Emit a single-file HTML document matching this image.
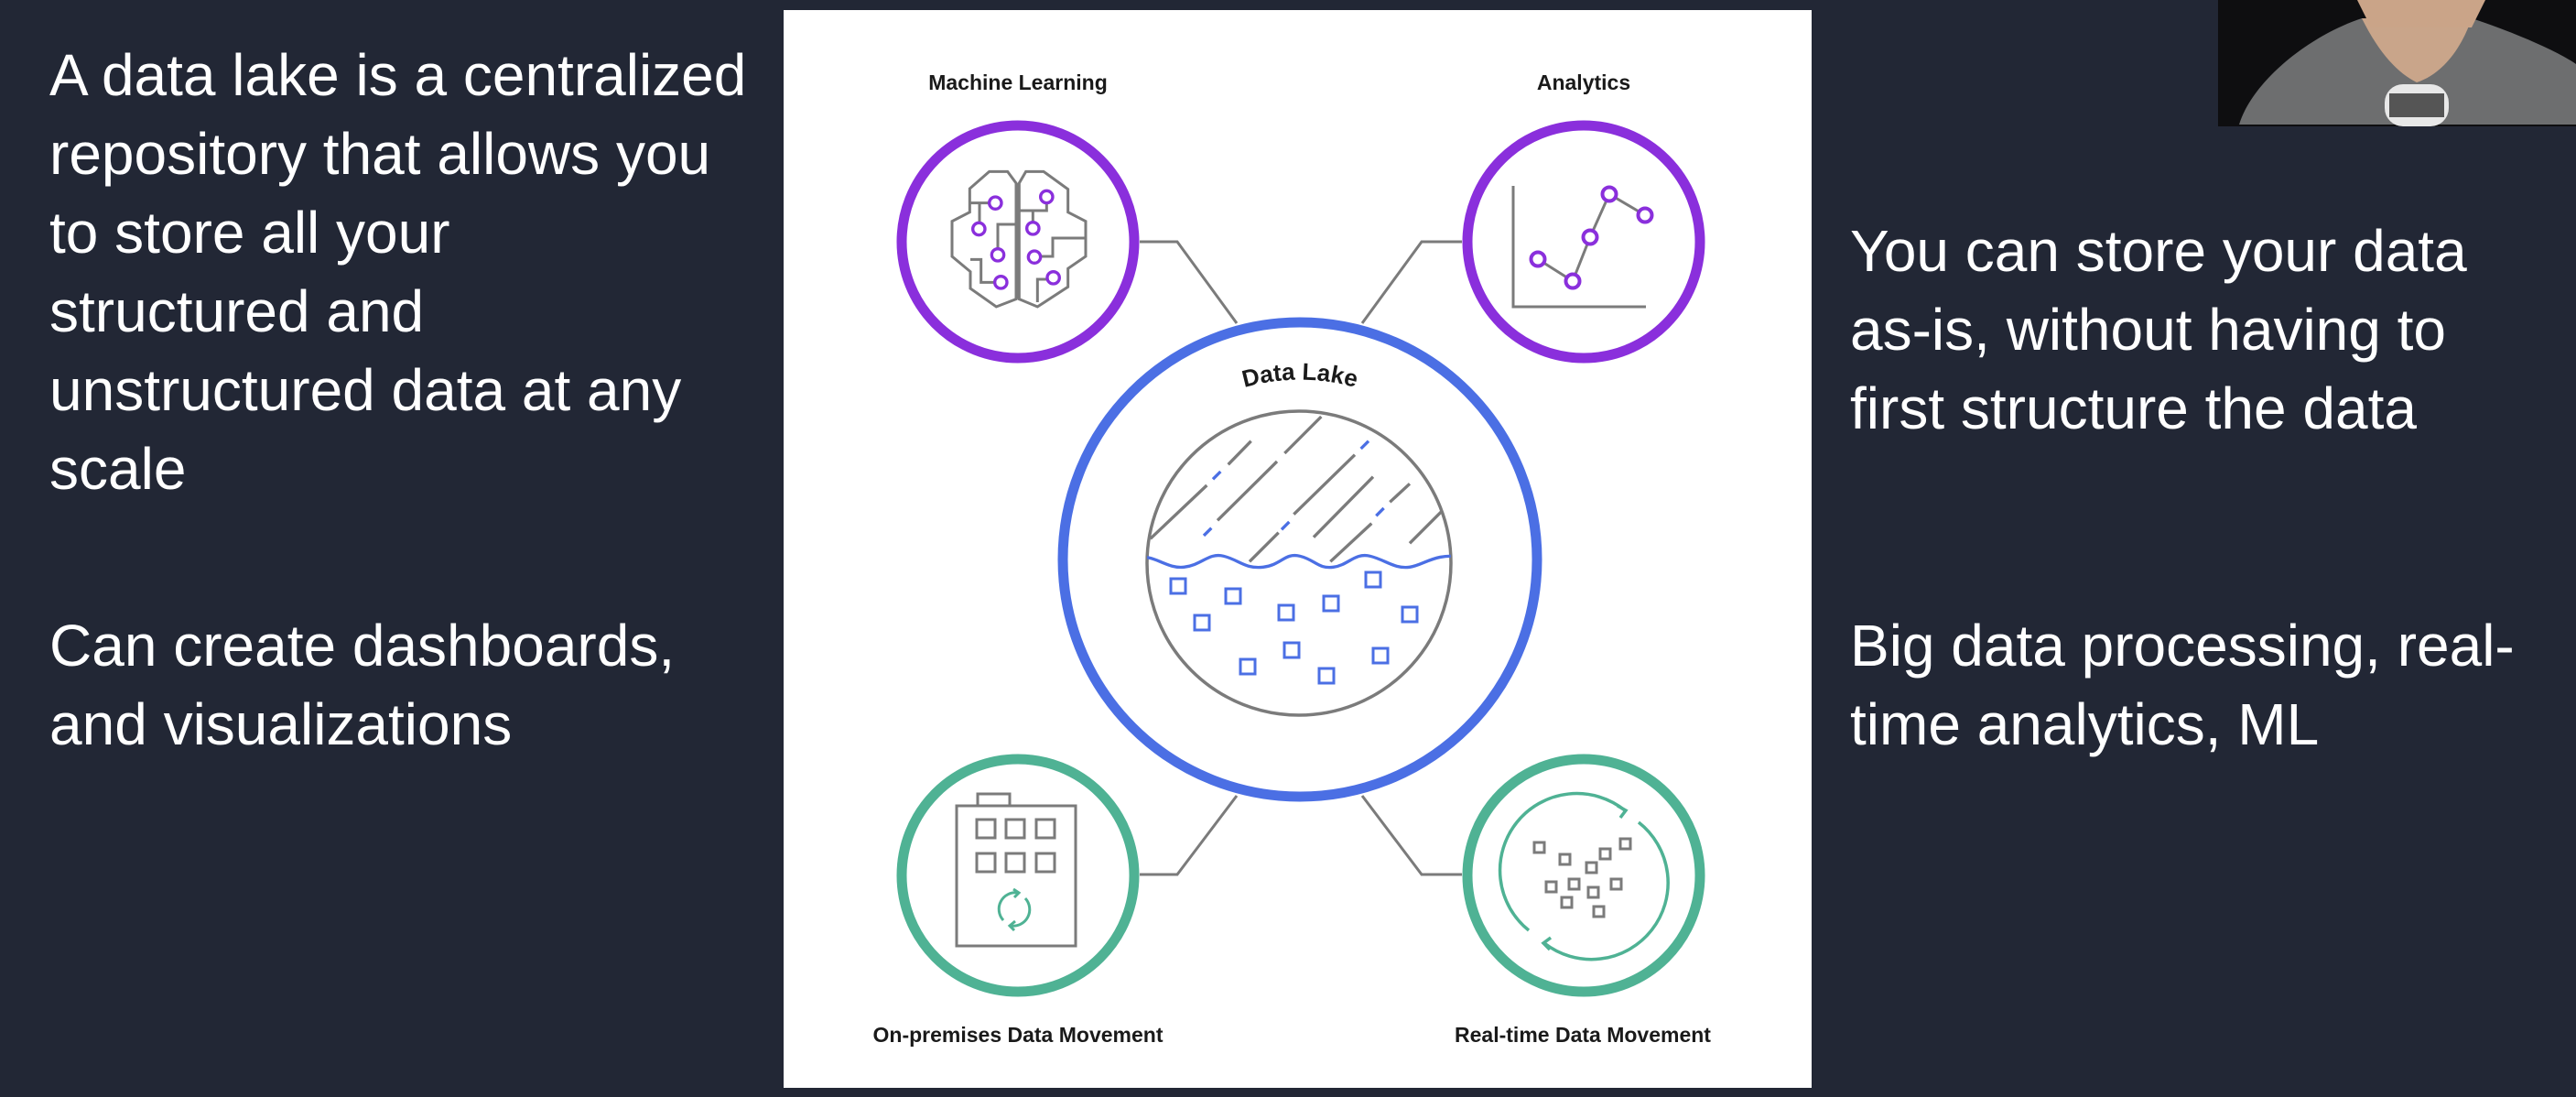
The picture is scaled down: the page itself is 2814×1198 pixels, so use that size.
<!DOCTYPE html>
<html><head><meta charset="utf-8"><style>
html,body{margin:0;padding:0}
body{width:2814px;height:1198px;background:#222735;position:relative;overflow:hidden;font-family:"Liberation Sans",sans-serif}
.t{position:absolute;color:#fff;font-size:64px;line-height:86px;white-space:nowrap}
svg{position:absolute;left:0;top:0}
</style></head><body>
<div class="t" style="left:54px;top:39px">A data lake is a centralized<br>repository that allows you<br>to store all your<br>structured and<br>unstructured data at any<br>scale</div>
<div class="t" style="left:54px;top:662px">Can create dashboards,<br>and visualizations</div>
<div class="t" style="left:2021px;top:231px">You can store your data<br>as-is, without having to<br>first structure the data</div>
<div class="t" style="left:2021px;top:662px">Big data processing, real-<br>time analytics, ML</div>

<svg width="2814" height="1198" viewBox="0 0 2814 1198">
<defs><clipPath id="ic"><circle cx="1419" cy="615" r="166"/></clipPath></defs>
<!-- webcam -->
<rect x="2423" y="0" width="391" height="138" fill="#0e0e10"/>
<path d="M2446 136 C2460 90 2520 40 2580 20 L2700 20 C2760 40 2800 60 2814 70 L2814 136 Z" fill="#6d6e6f"/>
<path d="M2580 20 C2600 60 2620 80 2640 90 C2670 80 2690 50 2700 20 Z" fill="#c9a58a"/>
<path d="M2575 0 L2715 0 L2700 30 L2590 30 Z" fill="#caa488"/>
<rect x="2605" y="92" width="70" height="46" rx="20" fill="#e8e8e8"/>
<rect x="2610" y="102" width="60" height="26" fill="#555"/>
<!-- panel -->
<rect x="856" y="11" width="1123" height="1177" fill="#fff"/>
<!-- connectors -->
<g fill="none" stroke="#7b7b7b" stroke-width="3">
<polyline points="1245,264 1286,264 1351,353"/>
<polyline points="1597,264 1553,264 1488,353"/>
<polyline points="1245,955 1286,955 1351,869"/>
<polyline points="1597,955 1553,955 1488,869"/>
</g>
<!-- circles -->
<circle cx="1112" cy="264" r="127" fill="#fff" stroke="#8a2fdc" stroke-width="11"/>
<circle cx="1730" cy="264" r="127" fill="#fff" stroke="#8a2fdc" stroke-width="11"/>
<circle cx="1112" cy="956" r="127" fill="#fff" stroke="#4fb294" stroke-width="11"/>
<circle cx="1730" cy="956" r="127" fill="#fff" stroke="#4fb294" stroke-width="11"/>
<circle cx="1420" cy="611" r="259" fill="#fff" stroke="#4b6fe4" stroke-width="11"/>
<!-- labels -->
<g font-family="Liberation Sans, sans-serif" font-weight="bold" font-size="23" fill="#1a1a1a" text-anchor="middle">
<text x="1112" y="98">Machine Learning</text>
<text x="1730" y="98">Analytics</text>
<text x="1112" y="1138">On-premises Data Movement</text>
<text x="1729" y="1138">Real-time Data Movement</text>
</g>
<path id="arc" d="M1250 495 A220 220 0 0 1 1590 495" fill="none"/>
<text font-family="Liberation Sans, sans-serif" font-weight="bold" font-size="26" fill="#1a1a1a" text-anchor="middle"><textPath href="#arc" startOffset="50%">Data Lake</textPath></text>
<!-- inner lake -->
<circle cx="1419" cy="615" r="166" fill="#fff" stroke="#7b7b7b" stroke-width="3.5"/>
<g clip-path="url(#ic)">
<g transform="translate(1240,430) scale(0.3333)" stroke-width="10" fill="none" stroke-linecap="butt">
<g stroke="#7b7b7b">
<line x1="50" y1="475" x2="235" y2="300"/><line x1="305" y1="232" x2="380" y2="155"/>
<line x1="270" y1="415" x2="465" y2="222"/><line x1="490" y1="195" x2="610" y2="75"/>
<line x1="375" y1="550" x2="470" y2="455"/><line x1="520" y1="395" x2="720" y2="200"/>
<line x1="585" y1="470" x2="780" y2="272"/><line x1="640" y1="550" x2="775" y2="425"/>
<line x1="835" y1="355" x2="900" y2="295"/><line x1="900" y1="490" x2="1005" y2="385"/>
</g>
<g stroke="#4b6fe4">
<line x1="225" y1="465" x2="250" y2="440"/><line x1="255" y1="280" x2="280" y2="255"/>
<line x1="480" y1="445" x2="505" y2="420"/><line x1="740" y1="180" x2="765" y2="155"/>
<line x1="790" y1="400" x2="815" y2="375"/>
<path d="M0 540 C60 520 100 575 160 568 S 240 520 290 532 S 360 575 420 568 S 490 520 540 532 S 600 575 650 568 S 720 520 770 532 S 850 575 900 568 S 980 520 1080 535"/>
</g>
</g>
</g>
<g fill="none" stroke="#4b6fe4" stroke-width="3">
<rect x="1279" y="632" width="16" height="16"/><rect x="1339" y="643" width="16" height="16"/>
<rect x="1305" y="672" width="16" height="16"/><rect x="1397" y="661" width="16" height="16"/>
<rect x="1446" y="651" width="16" height="16"/><rect x="1492" y="625" width="16" height="16"/>
<rect x="1532" y="663" width="16" height="16"/><rect x="1403" y="702" width="16" height="16"/>
<rect x="1355" y="720" width="16" height="16"/><rect x="1441" y="730" width="16" height="16"/>
<rect x="1500" y="708" width="16" height="16"/>
</g>
<!-- brain -->
<g transform="translate(1030,170) scale(0.3333)" fill="none">
<g stroke="#7b7b7b" stroke-width="9">
<path d="M240 90 L212 52 L152 52 L88 108 L88 185 L30 215 L30 330 L90 380 L90 435 L175 495 L240 470 Z"/>
<path d="M250 90 L272 52 L330 52 L410 110 L410 185 L468 215 L468 330 L410 370 L410 430 L310 495 L250 470 Z"/>
<line x1="245" y1="90" x2="245" y2="470"/>
<polyline points="90,155 150,155"/><polyline points="120,155 120,218"/>
<polyline points="245,225 180,225 180,305"/>
<polyline points="90,340 125,340 125,415 168,415"/>
<polyline points="340,157 340,180 250,180"/><polyline points="295,180 295,216"/>
<polyline points="468,270 360,270 360,330 322,330"/>
<polyline points="342,405 310,405 310,480"/>
</g>
<g stroke="#8a2fdc" stroke-width="10" fill="#fff">
<circle cx="172" cy="155" r="20"/><circle cx="118" cy="240" r="20"/><circle cx="180" cy="325" r="20"/>
<circle cx="190" cy="415" r="20"/><circle cx="340" cy="135" r="20"/><circle cx="295" cy="238" r="20"/>
<circle cx="300" cy="332" r="20"/><circle cx="362" cy="400" r="20"/>
</g>
</g>
<!-- analytics -->
<polyline points="1653,203 1653,335 1798,335" fill="none" stroke="#7b7b7b" stroke-width="3"/>
<polyline points="1680,283 1718,307 1737,259 1758,212 1797,235" fill="none" stroke="#7b7b7b" stroke-width="3"/>
<g stroke="#8a2fdc" stroke-width="4" fill="#fff">
<circle cx="1680" cy="283" r="7.5"/><circle cx="1718" cy="307" r="7.5"/><circle cx="1737" cy="259" r="7.5"/>
<circle cx="1758" cy="212" r="7.5"/><circle cx="1797" cy="235" r="7.5"/>
</g>
<!-- building -->
<g fill="none" stroke="#7b7b7b" stroke-width="3">
<rect x="1045" y="880" width="130" height="153"/><rect x="1068" y="867" width="35" height="13"/>
<rect x="1067" y="895" width="20" height="20"/><rect x="1099" y="895" width="20" height="20"/><rect x="1132" y="895" width="20" height="20"/>
<rect x="1067" y="932" width="20" height="20"/><rect x="1099" y="932" width="20" height="20"/><rect x="1132" y="932" width="20" height="20"/>
</g>
<g fill="none" stroke="#4fb294" stroke-width="3">
<path d="M1096 1005 A18 18 0 0 1 1112 975"/><path d="M1120 981 A18 18 0 0 1 1104 1011"/>
<path d="M1107 971 L1113 975 L1108 980"/><path d="M1109 1006 L1103 1011 L1108 1016"/>
</g>
<!-- realtime -->
<g fill="none" stroke="#4fb294" stroke-width="3.5">
<path d="M1670 1016 A83 83 0 0 1 1775 885"/><path d="M1790 898 A83 83 0 0 1 1687 1030"/>
<path d="M1767 880 L1776 885 L1770 893"/><path d="M1694 1024 L1686 1030 L1693 1037"/>
</g>
<g fill="none" stroke="#7b7b7b" stroke-width="3">
<rect x="1676" y="920" width="11" height="11"/><rect x="1704" y="933" width="11" height="11"/>
<rect x="1748" y="927" width="11" height="11"/><rect x="1770" y="916" width="11" height="11"/>
<rect x="1733" y="942" width="11" height="11"/><rect x="1689" y="963" width="11" height="11"/>
<rect x="1714" y="960" width="11" height="11"/><rect x="1735" y="969" width="11" height="11"/>
<rect x="1760" y="960" width="11" height="11"/><rect x="1706" y="980" width="11" height="11"/>
<rect x="1741" y="990" width="11" height="11"/>
</g>
</svg>
</body></html>
